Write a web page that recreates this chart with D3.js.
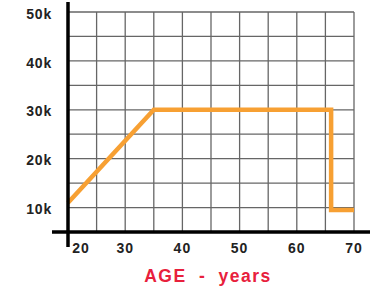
<!DOCTYPE html>
<html><head><meta charset="utf-8">
<script src="https://cdn.jsdelivr.net/npm/d3@7/dist/d3.min.js"></script>
<style>body{margin:0;background:#fff;} svg{display:block;}</style>
</head><body>
<svg id="c" width="374" height="291"></svg>
<script>
const ages = [20, 35, 66, 66, 70];
const income = [11000, 30000, 30000, 9500, 9500];
const xTicks = [20, 30, 40, 50, 60, 70];
const yTicks = [10000, 20000, 30000, 40000, 50000];
const yTickLabels = ["10k", "20k", "30k", "40k", "50k"];
const xGrid = d3.range(20, 71, 5);
const yGrid = d3.range(5000, 50001, 5000);
const title = "AGE - years";

const svg = d3.select("#c");
const x = d3.scaleLinear().domain([20, 70]).range([68, 354]);
const y = d3.scaleLinear().domain([5000, 50000]).range([232, 12]);
const font = "Liberation Sans, Arial, sans-serif";

// grid
svg.append("g").selectAll("line").data(xGrid).join("line")
  .attr("x1", d => x(d)).attr("x2", d => x(d)).attr("y1", y(50000)).attr("y2", y(5000))
  .attr("stroke", "#666").attr("stroke-width", 1.3);
svg.append("g").selectAll("line").data(yGrid).join("line")
  .attr("x1", x(20)).attr("x2", x(70)).attr("y1", d => y(d)).attr("y2", d => y(d))
  .attr("stroke", "#666").attr("stroke-width", 1.3);

// line
svg.append("path")
  .datum(ages.map((a, i) => [a, income[i]]))
  .attr("d", d3.line().x(d => x(d[0])).y(d => y(d[1])))
  .attr("fill", "none").attr("stroke", "#f7a033").attr("stroke-width", 4.5)
  .attr("stroke-linejoin", "miter");

// axes lines
svg.append("line").attr("x1", x(20)).attr("x2", x(20)).attr("y1", 2).attr("y2", 247)
  .attr("stroke", "#000").attr("stroke-width", 3.5);
svg.append("line").attr("x1", 52).attr("x2", 370).attr("y1", y(5000)).attr("y2", y(5000))
  .attr("stroke", "#000").attr("stroke-width", 3.5);

// y labels
svg.append("g").selectAll("text").data(yTicks).join("text")
  .attr("x", 52).attr("y", d => y(d) + 3)
  .attr("text-anchor", "end").attr("dominant-baseline", "middle")
  .attr("font-family", font).attr("font-weight", "bold")
  .attr("font-size", 14).attr("letter-spacing", 0.8).attr("fill", "#222")
  .text((d, i) => yTickLabels[i]);

// x labels
svg.append("g").selectAll("text").data(xTicks).join("text")
  .attr("x", d => x(d) + (d === 20 ? 13 : 0)).attr("y", 249)
  .attr("text-anchor", "middle").attr("dominant-baseline", "middle")
  .attr("font-family", font).attr("font-weight", "bold")
  .attr("font-size", 14).attr("letter-spacing", 1).attr("fill", "#222")
  .text(d => d);

// title
svg.append("text").attr("x", 208).attr("y", 277)
  .attr("text-anchor", "middle").attr("dominant-baseline", "middle")
  .attr("font-family", font).attr("font-weight", "bold")
  .attr("font-size", 17.5).attr("letter-spacing", 1.5).attr("word-spacing", 6)
  .attr("fill", "#e8203c")
  .text(title);
</script>
</body></html>
